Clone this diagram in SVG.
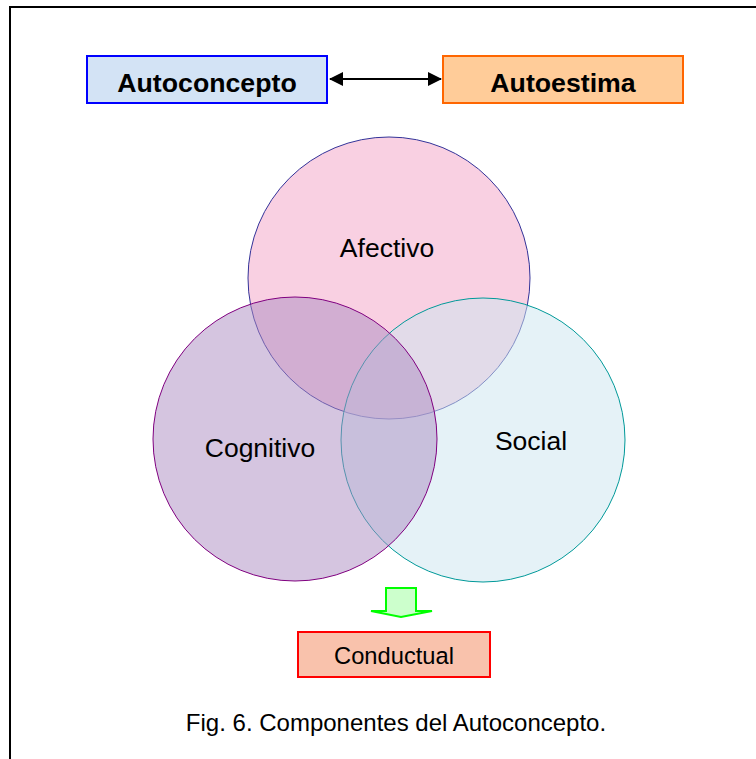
<svg xmlns="http://www.w3.org/2000/svg" width="756" height="759" viewBox="0 0 756 759">
<style>
text{font-family:"Liberation Sans",Arial,sans-serif;fill:#000;text-anchor:middle}
.b{font-weight:bold;font-size:26.7px}
.c{font-size:26.5px}
</style>
<defs>
<marker id="ah" viewBox="0 0 14 14" refX="13" refY="7" markerWidth="14" markerHeight="14" markerUnits="userSpaceOnUse" orient="auto-start-reverse">
<path d="M0,0 L14,7 L0,14 Z" fill="#000"/>
</marker>
</defs>
<rect width="756" height="759" fill="#fff"/>
<path d="M10,759 V7 H756" fill="none" stroke="#000" stroke-width="2"/>
<g id="autoconcepto">
<rect x="87" y="56" width="240" height="47" fill="#D3E3F5" stroke="#0000FF" stroke-width="2"/>
<text class="b" x="207" y="92">Autoconcepto</text>
</g>
<g id="autoestima">
<rect x="443" y="56" width="240" height="47" fill="#FFCC99" stroke="#FF6600" stroke-width="2"/>
<text class="b" x="563" y="92">Autoestima</text>
</g>
<g id="afectivo">
<circle cx="389" cy="278" r="141" fill="#F9D0E2" stroke="#333399" stroke-width="1"/>
<text class="c" x="387" y="257">Afectivo</text>
</g>
<g id="social">
<circle cx="483" cy="440" r="142" fill="#CDE6F0" fill-opacity="0.52" stroke="#009999" stroke-width="1"/>
<text class="c" x="531" y="450">Social</text>
</g>
<g id="cognitivo">
<circle cx="295" cy="439" r="142" fill="#AB8BC1" fill-opacity="0.5" stroke="#800080" stroke-width="1"/>
<text class="c" x="260" y="457">Cognitivo</text>
</g>
<g id="conductual">
<rect x="298" y="632" width="192" height="45" fill="#F9C2AC" stroke="#FF0000" stroke-width="2"/>
<text x="394" y="664" style="font-size:23.7px">Conductual</text>
</g>
<g id="connectors">
<line x1="330" y1="79" x2="441" y2="79" stroke="#000" stroke-width="2" marker-start="url(#ah)" marker-end="url(#ah)"/>
<path d="M386,588 H416 V611 H432 L401,617 L371,611 H386 Z" fill="#CCFFCC" stroke="#00FF00" stroke-width="2"/>
</g>
<text x="396" y="731" style="font-size:24px">Fig. 6. Componentes del Autoconcepto.</text>
</svg>
